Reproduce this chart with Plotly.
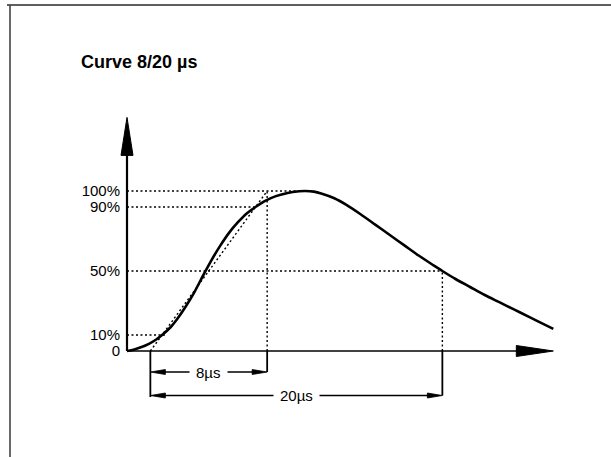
import numpy as np
import plotly.graph_objects as go

# Normalised 8/20 µs current impulse: time in µs, amplitude in % of peak
t_us = [0, 0.5, 1.0, 1.5, 2.0, 2.4, 3.0, 3.4, 4.0, 4.6, 5.2, 5.8, 6.4, 7.0,
        7.6, 8.2, 8.8, 9.5, 10.2, 11.0, 11.8, 12.2, 12.8, 13.3, 14.2, 15.0,
        16.0, 17.0, 18.0, 19.0, 20.0, 21.0, 21.6, 22.5, 23.5, 24.5, 25.5,
        26.5, 27.5, 28.5, 29.2]
amp_pct = [0, 1.0, 2.5, 4.5, 7.2, 10, 15, 19.5, 27.5, 36.5, 47, 57, 66, 74,
           80.5, 86, 90, 94, 96.8, 98.8, 99.8, 100, 99.6, 98.5, 95.5, 91.5,
           85.5, 79, 72.5, 66, 59.5, 53.5, 50, 45, 40, 35, 30.5, 26, 21.5,
           17, 13.8]

level_vals = [0, 10, 50, 90, 100]
level_text = ["0", "10%", "50%", "90%", "100%"]

title_text = "Curve 8/20 µs"
front_label = "8µs"
half_label = "20µs"

# axis extents (µs / %)
x_axis_end = 29.2
y_axis_end = 146

# ---- derived impulse parameters -------------------------------------------
t = np.array(t_us, float)
a = np.array(amp_pct, float)
ipk = int(np.argmax(a))
t_peak = t[ipk]
t10 = float(np.interp(10, a[:ipk + 1], t[:ipk + 1]))
t90 = float(np.interp(90, a[:ipk + 1], t[:ipk + 1]))
t_front = 1.25 * (t90 - t10)            # front time T1
o1 = t10 - (t90 - t10) / 8.0             # virtual origin O1
t_half = float(np.interp(50, a[ipk:][::-1], t[ipk:][::-1]))  # 50 % on the tail
t_tail = t_half - o1                     # time to half value T2

# ---- page geometry -------------------------------------------------------
W, H = 611, 457
X0_PX, Y0_PX = 127, 351       # where the axes cross
KX, KY = 14.6, 1.6            # pixels per µs, pixels per %
x_range = [-X0_PX / KX, (W - X0_PX) / KX]
y_range = [-(H - Y0_PX) / KY, Y0_PX / KY]

bracket1_y = -21 / KY
bracket2_y = -44.5 / KY
bar_bottom = -46 / KY

FONT = "Liberation Sans, Arial, Helvetica"


def tri(tip_x, tip_y, ux, uy, length_px, half_px):
    """Filled arrowhead path; (ux, uy) is the screen direction it points."""
    bx = tip_x - ux * length_px / KX
    by = tip_y - uy * length_px / KY
    px, py = -uy, ux
    p1 = (bx + px * half_px / KX, by + py * half_px / KY)
    p2 = (bx - px * half_px / KX, by - py * half_px / KY)
    return (f"M {tip_x},{tip_y} L {p1[0]},{p1[1]} "
            f"L {p2[0]},{p2[1]} Z")


def seg(x0, y0, x1, y1, width=1.5, dash="solid"):
    return dict(type="line", xref="x", yref="y", x0=x0, y0=y0, x1=x1, y1=y1,
                line=dict(color="black", width=width, dash=dash))


DOT = "2px,2.5px"
shapes = []

# frame
shapes.append(dict(type="line", xref="paper", yref="paper",
                   x0=7 / W, x1=1, y0=1 - 5 / H, y1=1 - 5 / H,
                   line=dict(color="#2a2a2a", width=1.6)))
shapes.append(dict(type="line", xref="paper", yref="paper",
                   x0=10 / W, x1=10 / W, y0=0, y1=1 - 5 / H,
                   line=dict(color="#444444", width=1.6)))

# level guides
shapes.append(seg(0, 100, t_peak, 100, 1.4, DOT))
shapes.append(seg(0, 90, t90, 90, 1.4, DOT))
shapes.append(seg(0, 50, t_half, 50, 1.4, DOT))
shapes.append(seg(0, 10, t10 + 0.2, 10, 1.4, DOT))
# straight line through the 10 % and 90 % points
shapes.append(seg(o1, 0, o1 + t_front, 100, 1.4, DOT))
# verticals above the time axis
shapes.append(seg(o1 + t_front, 0, o1 + t_front, 100, 1.4, DOT))
shapes.append(seg(t_half, 0, t_half, 50, 1.4, DOT))

# axes
shapes.append(seg(0, 0, 0, y_axis_end - 30 / KY, 2.2))
shapes.append(dict(type="path", path=tri(0, y_axis_end, 0, 1, 38, 6),
                   fillcolor="black", line=dict(color="black", width=1)))
shapes.append(seg(0, 0, x_axis_end - 30 / KX, 0, 1.6))
shapes.append(dict(type="path", path=tri(x_axis_end, 0, 1, 0, 37, 5.5),
                   fillcolor="black", line=dict(color="black", width=1)))

# dimension bars below the axis
shapes.append(seg(o1, 0, o1, bar_bottom, 1.8))
shapes.append(seg(o1 + t_front, 0, o1 + t_front, bracket1_y, 1.8))
shapes.append(seg(o1 + t_tail, 0, o1 + t_tail, bracket2_y, 1.8))

annotations = []
for lvl_y, x_start, x_end, label in [
        (bracket1_y, o1, o1 + t_front, front_label),
        (bracket2_y, o1, o1 + t_tail, half_label)]:
    shapes.append(seg(x_start + 10 / KX, lvl_y, x_end - 10 / KX, lvl_y, 1.5))
    shapes.append(dict(type="path", path=tri(x_start, lvl_y, -1, 0, 15, 2.5),
                       fillcolor="black", line=dict(color="black", width=0.8)))
    shapes.append(dict(type="path", path=tri(x_end, lvl_y, 1, 0, 15, 2.5),
                       fillcolor="black", line=dict(color="black", width=0.8)))
    annotations.append(dict(x=(x_start + x_end) / 2, y=lvl_y, xref="x",
                            yref="y", text=label, showarrow=False,
                            bgcolor="white", borderpad=6,
                            font=dict(size=15, color="black", family=FONT)))

annotations.append(dict(x=79 / W, y=1 - 62 / H, xref="paper", yref="paper",
                        xanchor="left", yanchor="middle",
                        text=f"<b>{title_text}</b>", showarrow=False,
                        font=dict(size=18, color="black", family=FONT)))

fig = go.Figure()
fig.add_trace(go.Scatter(x=t_us, y=amp_pct, mode="lines",
                         line=dict(color="black", width=2.6, shape="spline",
                                   smoothing=0.8),
                         hoverinfo="skip", showlegend=False))

fig.update_layout(
    width=W, height=H,
    margin=dict(l=0, r=0, t=0, b=0),
    paper_bgcolor="white", plot_bgcolor="white",
    shapes=shapes, annotations=annotations,
    xaxis=dict(range=x_range, visible=False, fixedrange=True),
    yaxis=dict(range=y_range, anchor="free", position=X0_PX / W,
               tickvals=level_vals, ticktext=level_text, ticks="",
               showgrid=False, zeroline=False, showline=False,
               ticklabelstandoff=7, automargin=False, fixedrange=True,
               tickfont=dict(size=15, color="black", family=FONT)),
)

fig.write_html("out.html")
